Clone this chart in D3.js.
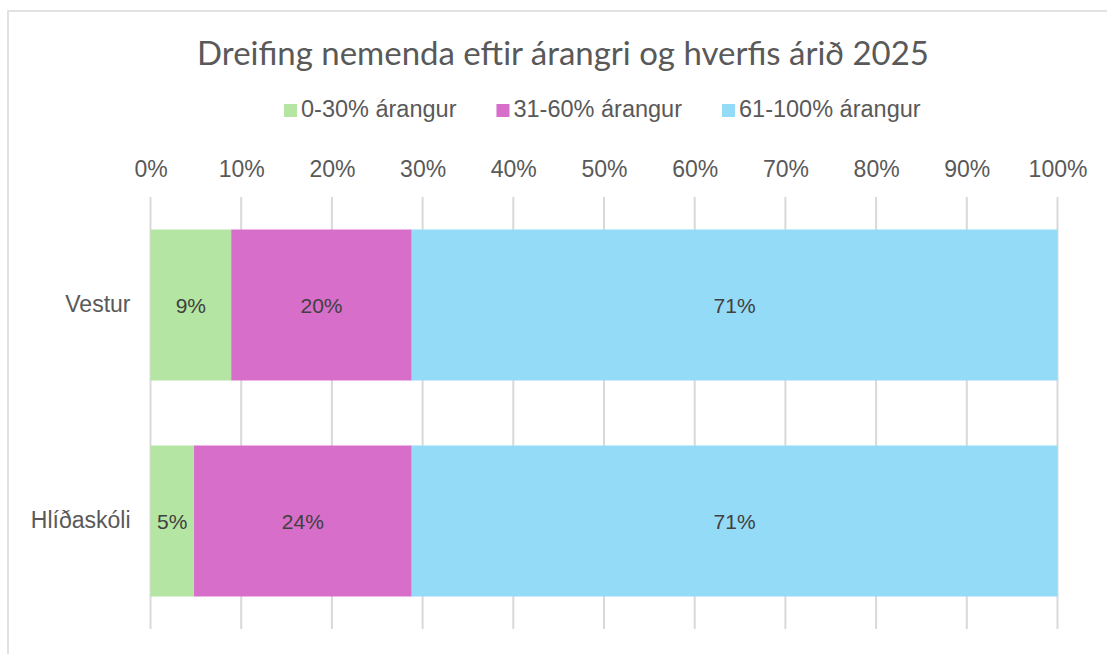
<!DOCTYPE html>
<html>
<head>
<meta charset="utf-8">
<script src="https://cdn.jsdelivr.net/npm/d3@7"></script>
<style>
  html, body { margin: 0; padding: 0; background: #ffffff; }
  svg { display: block; }
</style>
</head>
<body>
<svg id="chart" width="1107" height="654"></svg>
<script>
// ---- data ----
const title = "Dreifing nemenda eftir árangri og hverfis árið 2025";
const categories = ["Vestur", "Hlíðaskóli"];
const seriesNames = ["0-30% árangur", "31-60% árangur", "61-100% árangur"];
const series0to30 = [8.9, 4.8];
const series31to60 = [19.9, 24.0];
const series61to100 = [71.2, 71.2];
const tickValues = [0, 10, 20, 30, 40, 50, 60, 70, 80, 90, 100];
const colors = ["#b4e5a2", "#d76ec9", "#94dbf8"];

// ---- layout ----
const W = 1107, H = 654;
const plot = { left: 150.5, right: 1057.5, top: 197, bottom: 629 };
const svg = d3.select("#chart");

// chart area border
svg.append("rect")
  .attr("x", 8).attr("y", 11).attr("width", 1300).attr("height", 1000)
  .attr("fill", "#ffffff").attr("stroke", "#d9d9d9").attr("stroke-width", 1.5);

const seriesList = [series0to30, series31to60, series61to100];
const rows = categories.map((c, i) => {
  const r = { category: c };
  seriesNames.forEach((s, j) => r[s] = seriesList[j][i]);
  return r;
});
const stacked = d3.stack().keys(seriesNames)(rows);

const x = d3.scaleLinear().domain([0, 100]).range([plot.left, plot.right]);
const y = d3.scaleBand().domain(categories).range([plot.top, plot.bottom])
  .paddingInner(0.301).paddingOuter(0.1505);

// gridlines
svg.append("g").selectAll("line").data(tickValues).join("line")
  .attr("x1", d => x(d)).attr("x2", d => x(d))
  .attr("y1", plot.top).attr("y2", plot.bottom)
  .attr("stroke", "#d9d9d9").attr("stroke-width", 2);

// top axis labels
const axis = svg.append("g").attr("transform", `translate(0,${plot.top})`)
  .call(d3.axisTop(x).tickValues(tickValues).tickSize(0).tickPadding(20).tickFormat(d => d + "%"));
axis.select(".domain").remove();
axis.selectAll("text")
  .attr("font-family", "'Liberation Sans', Arial, sans-serif")
  .attr("font-size", 23).attr("fill", "#595959");

// category axis labels
const yAxis = svg.append("g").attr("transform", `translate(${plot.left},0)`)
  .call(d3.axisLeft(y).tickSize(0).tickPadding(20));
yAxis.select(".domain").remove();
yAxis.selectAll("text")
  .attr("font-family", "'Liberation Sans', Arial, sans-serif")
  .attr("font-size", 23).attr("fill", "#595959");

// bars
const layers = svg.append("g").selectAll("g").data(stacked).join("g")
  .attr("fill", (d, i) => colors[i]);
layers.selectAll("rect").data(d => d).join("rect")
  .attr("x", d => x(d[0]))
  .attr("width", d => x(d[1]) - x(d[0]))
  .attr("y", d => y(d.data.category))
  .attr("height", y.bandwidth());

// data labels
const labels = svg.append("g");
stacked.forEach(layer => {
  layer.forEach(d => {
    labels.append("text")
      .attr("x", (x(d[0]) + x(d[1])) / 2)
      .attr("y", y(d.data.category) + y.bandwidth() / 2)
      .attr("dy", "0.36em")
      .attr("text-anchor", "middle")
      .attr("font-family", "'Liberation Sans', Arial, sans-serif")
      .attr("font-size", 21).attr("fill", "#404040")
      .text(Math.round(d[1] - d[0]) + "%");
  });
});

// title
const t = svg.append("text")
  .attr("x", 563).attr("y", 65).attr("text-anchor", "middle")
  .attr("font-family", "Lato, 'Open Sans', sans-serif")
  .attr("font-size", 32).attr("fill", "#595959")
  .text(title);
const tw = t.node().getComputedTextLength();
t.attr("font-size", 32 * 732 / tw);

// legend
const legend = svg.append("g");
let lx = 284;
seriesNames.forEach((s, i) => {
  legend.append("rect").attr("x", lx).attr("y", 104).attr("width", 13).attr("height", 13)
    .attr("fill", colors[i]);
  const txt = legend.append("text").attr("x", lx + 17).attr("y", 117)
    .attr("font-family", "'Liberation Sans', Arial, sans-serif")
    .attr("font-size", 23.5).attr("fill", "#595959").text(s);
  lx += 17 + txt.node().getComputedTextLength() + 40;
});
</script>
</body>
</html>
